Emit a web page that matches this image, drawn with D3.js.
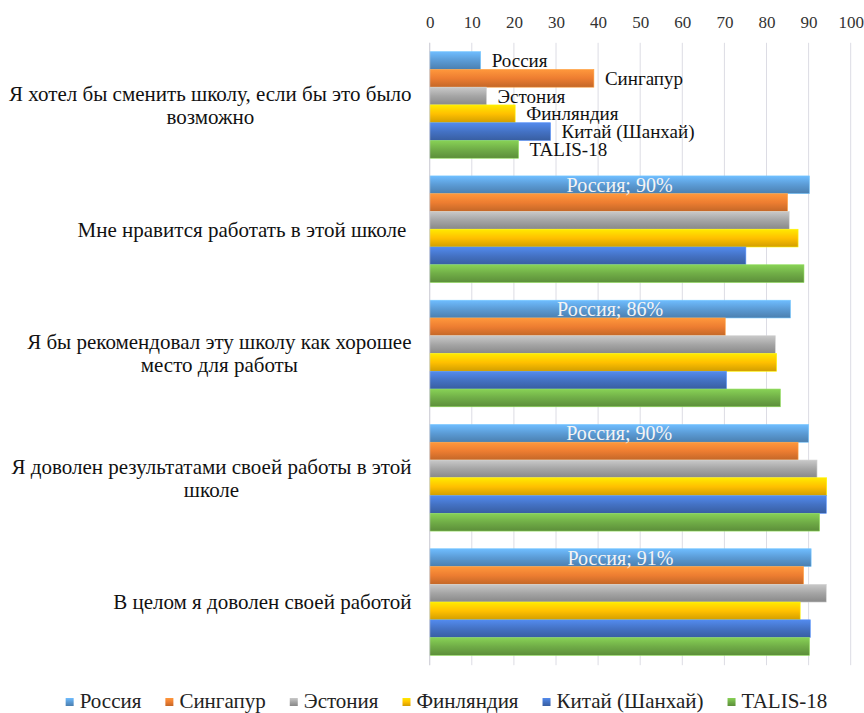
<!DOCTYPE html>
<html><head><meta charset="utf-8">
<script src="https://cdn.jsdelivr.net/npm/d3@7"></script>
<style>
html,body{margin:0;padding:0;background:#fff;}
svg{display:block;}
</style></head>
<body>
<svg id="chart" width="864" height="713"></svg>
<script>
// ---- data ----
const categories = [
  ["Я хотел бы сменить школу, если бы это было", "возможно"],
  ["Мне нравится работать в этой школе "],
  ["Я бы рекомендовал эту школу как хорошее", "место для работы"],
  ["Я доволен результатами своей работы в этой", "школе"],
  ["В целом я доволен своей работой"]
];
const seriesNames = ["Россия", "Сингапур", "Эстония", "Финляндия", "Китай (Шанхай)", "TALIS-18"];
const seriesColors = ["#5B9BD5", "#ED7D31", "#A5A5A5", "#FFC000", "#4472C4", "#70AD47"];
const russia    = [12.1, 90.2, 85.7, 90.0, 90.6];
const singapore = [39.0, 85.0, 70.2, 87.5, 88.8];
const estonia   = [13.5, 85.4, 82.1, 92.0, 94.2];
const finland   = [20.3, 87.5, 82.4, 94.3, 88.0];
const china     = [28.7, 75.1, 70.5, 94.2, 90.4];
const talis     = [21.1, 88.9, 83.3, 92.6, 90.2];
const russiaLabels = ["", "Россия; 90%", "Россия; 86%", "Россия; 90%", "Россия; 91%"];
const xTicks = [0, 10, 20, 30, 40, 50, 60, 70, 80, 90, 100];

const seriesValues = [russia, singapore, estonia, finland, china, talis];
const FONT = "'Liberation Serif', 'Times New Roman', serif";

// ---- layout ----
const svg = d3.select("#chart").attr("font-family", FONT).style("font-family", FONT);
const plot = {left: 429.7, right: 850.7, top: 42.8, bottom: 664.2};
const x = d3.scaleLinear().domain([0, 100]).range([plot.left, plot.right]);
const catIdx = categories.map((d, i) => i);
const y = d3.scaleBand().domain(catIdx).range([plot.top, plot.bottom]).paddingInner(0.1423).paddingOuter(0.0712);
const ys = d3.scaleBand().domain(d3.range(seriesNames.length)).range([0, y.bandwidth()]);

function txt(sel) { return sel.attr("font-family", FONT).style("font-family", FONT); }

// gradients
const defs = svg.append("defs");
seriesColors.forEach((c, i) => {
  const g = defs.append("linearGradient").attr("id", "g" + i)
    .attr("x1", 0).attr("y1", 0).attr("x2", 0).attr("y2", 1);
  g.append("stop").attr("offset", "0%").attr("stop-color", d3.color(c).brighter(0.55));
  g.append("stop").attr("offset", "50%").attr("stop-color", c);
  g.append("stop").attr("offset", "100%").attr("stop-color", d3.color(c).darker(0.55));
});

// gridlines
svg.append("g").selectAll("line").data(xTicks).join("line")
  .attr("x1", d => x(d)).attr("x2", d => x(d))
  .attr("y1", plot.top).attr("y2", plot.bottom + 1)
  .attr("stroke", "#dcdce4").attr("stroke-width", 1);

// top axis
const axis = d3.axisTop(x).tickValues(xTicks).tickSize(0).tickPadding(0).tickFormat(d3.format("d"));
const ax = svg.append("g").attr("transform", `translate(0,28)`).call(axis);
ax.attr("font-family", FONT);
ax.select(".domain").remove();
txt(ax.selectAll("text")).attr("font-size", 17).attr("fill", "#333").attr("dy", 0);

// bars
const groups = svg.append("g").selectAll("g").data(catIdx).join("g")
  .attr("transform", d => `translate(0,${y(d)})`);
groups.selectAll("rect").data(ci => seriesValues.map((s, si) => ({si, v: s[ci]}))).join("rect")
  .attr("x", x(0))
  .attr("y", d => ys(d.si))
  .attr("width", d => x(d.v) - x(0))
  .attr("height", ys.bandwidth())
  .attr("fill", d => `url(#g${d.si})`)
  .attr("stroke", d => d3.color(seriesColors[d.si]).brighter(0.7))
  .attr("stroke-width", 0.6);

// axis line at 0
svg.append("line").attr("x1", x(0)).attr("x2", x(0)).attr("y1", plot.top).attr("y2", plot.bottom + 1)
  .attr("stroke", "#d0d0d8");

// labels of first group (series names)
txt(svg.append("g").selectAll("text").data(seriesNames).join("text"))
  .attr("x", (d, i) => x(seriesValues[i][0]) + 11)
  .attr("y", (d, i) => y(0) + ys(i) + ys.bandwidth() / 2)
  .attr("dy", "0.35em")
  .attr("font-size", 19).attr("fill", "#111")
  .text(d => d);

// Russia labels
txt(svg.append("g").selectAll("text").data(catIdx.filter(i => russiaLabels[i])).join("text"))
  .attr("x", i => (x(0) + x(russia[i])) / 2)
  .attr("y", i => y(i) + ys(0) + ys.bandwidth() / 2)
  .attr("dy", "0.35em")
  .attr("text-anchor", "middle")
  .attr("font-size", 20).attr("fill", "#f4f4f4")
  .text(i => russiaLabels[i]);

// category labels
const labRight = 411.5, lineH = 23;
catIdx.forEach(i => {
  const lines = categories[i];
  const g = svg.append("g");
  const texts = lines.map((t, k) => txt(g.append("text"))
    .attr("font-size", 21).attr("fill", "#111")
    .attr("xml:space", "preserve").style("white-space", "pre")
    .attr("text-anchor", "middle")
    .attr("y", y(i) + y.bandwidth() / 2 + (k - (lines.length - 1) / 2) * lineH)
    .attr("dy", "0.35em")
    .text(t));
  const w = d3.max(texts, t => t.node().getComputedTextLength());
  texts.forEach(t => t.attr("x", labRight - w / 2));
});

// legend
const legY = 701, sq = 8, gapSq = 6, gapItem = 24;
const leg = svg.append("g");
let cx = 0;
seriesNames.forEach((n, i) => {
  const it = leg.append("g");
  it.append("rect").attr("x", 0).attr("y", legY - sq / 2 + 1).attr("width", sq).attr("height", sq)
    .attr("fill", `url(#g${i})`);
  const t = txt(it.append("text")).attr("x", sq + gapSq).attr("y", legY).attr("dy", "0.33em")
    .attr("font-size", 21).attr("fill", "#222").text(n);
  const w = sq + gapSq + t.node().getComputedTextLength();
  it.attr("transform", `translate(${cx},0)`);
  cx += w + gapItem;
});
const totalW = cx - gapItem;
leg.attr("transform", `translate(${446.5 - totalW / 2},0)`);
</script>
</body></html>
